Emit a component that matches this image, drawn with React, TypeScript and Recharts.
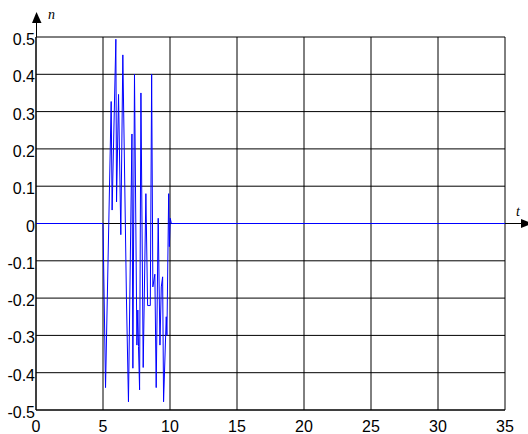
import { LineChart, Line, XAxis, YAxis, CartesianGrid } from "recharts";

// sample times and noise values n(t)
const times = [
  0, 5.0, 5.19, 5.61, 5.68, 5.96, 6.01, 6.16, 6.33, 6.48, 6.75, 6.9, 7.16, 7.23, 7.35, 7.53, 7.6,
  7.65, 7.73, 7.83, 8.0, 8.2, 8.33, 8.53, 8.63, 8.72, 8.87, 8.97, 9.12, 9.25, 9.35, 9.45, 9.52,
  9.72, 9.77, 9.9, 9.95, 10.02, 10.1, 35,
];
const noise = [
  0, 0, -0.44, 0.327, 0.036, 0.494, 0.058, 0.346, -0.03, 0.452, -0.2, -0.478, 0.24, -0.388, 0.4,
  -0.326, -0.232, -0.33, -0.446, 0.35, -0.386, 0.08, -0.22, -0.22, 0.4, -0.17, -0.136, -0.44,
  0.014, -0.326, -0.17, -0.143, -0.478, -0.25, -0.3, 0.08, -0.062, 0.014, 0, 0,
];

const xTicks = [0, 5, 10, 15, 20, 25, 30, 35];
const yTicks = [-0.5, -0.4, -0.3, -0.2, -0.1, 0, 0.1, 0.2, 0.3, 0.4, 0.5];

const data = times.map((t, i) => ({ t, n: noise[i] }));

const FONT = "'Liberation Sans', Arial, sans-serif";

const fmtY = (v: number) => (v === 0 ? "0" : v.toFixed(1));

const YTick = ({ x, y, payload }: any) => (
  <text x={x} y={y + 8} textAnchor="end" fontSize={16} fontFamily={FONT} fill="#000">
    {fmtY(payload.value)}
  </text>
);

const XTick = ({ x, y, payload }: any) => (
  <text x={x} y={y + 22} textAnchor="middle" fontSize={16} fontFamily={FONT} fill="#000">
    {payload.value}
  </text>
);

export default function App() {
  return (
    <div style={{ position: "absolute", left: 0, top: 0, width: 528, height: 434, background: "#fff" }}>
      <LineChart width={528} height={434} data={data} margin={{ top: 37, right: 23, left: 0, bottom: 0 }}>
        <CartesianGrid stroke="#000" strokeWidth={1} />
        <XAxis
          dataKey="t"
          type="number"
          domain={[0, 35]}
          ticks={xTicks}
          height={24}
          tickSize={0}
          tickMargin={0}
          axisLine={{ stroke: "#000" }}
          tick={<XTick />}
          interval={0}
        />
        <YAxis
          type="number"
          domain={[-0.5, 0.5]}
          ticks={yTicks}
          width={36}
          tickSize={0}
          tickMargin={1}
          axisLine={{ stroke: "#000" }}
          tick={<YTick />}
          interval={0}
        />
        <Line
          type="linear"
          dataKey="n"
          stroke="#0000ff"
          strokeWidth={1}
          dot={false}
          isAnimationActive={false}
        />
      </LineChart>
      <svg
        width={528}
        height={434}
        style={{ position: "absolute", left: 0, top: 0, pointerEvents: "none", overflow: "hidden" }}
      >
        {/* y axis arrow */}
        <line x1={36.5} y1={37} x2={36.5} y2={20} stroke="#000" />
        <polygon points="32,23 36.5,12 41.5,23" fill="#000" />
        <text x={48} y={19} fontSize={14} fontStyle="italic" fontFamily="'Liberation Serif', 'Times New Roman', serif">
          n
        </text>
        {/* x axis arrow */}
        <line x1={505} y1={223.5} x2={522} y2={223.5} stroke="#000" />
        <polygon points="521,219 532,223.5 521,228" fill="#000" />
        <text x={516} y={216} fontSize={14} fontStyle="italic" fontFamily="'Liberation Serif', 'Times New Roman', serif">
          t
        </text>
      </svg>
    </div>
  );
}
